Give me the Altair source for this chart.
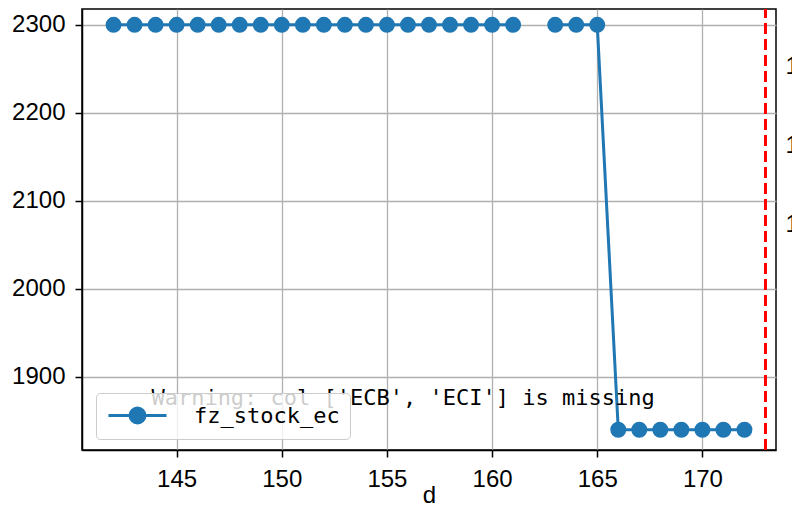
import altair as alt
import pandas as pd

# ---- data ----
days = [142, 143, 144, 145, 146, 147, 148, 149, 150, 151, 152, 153, 154, 155, 156,
        157, 158, 159, 160, 161, 162, 163, 164, 165, 166, 167, 168, 169, 170, 171, 172]
stock = [2300, 2300, 2300, 2300, 2300, 2300, 2300, 2300, 2300, 2300, 2300, 2300, 2300,
         2300, 2300, 2300, 2300, 2300, 2300, 2300, None, 2300, 2300, 2300,
         1840, 1840, 1840, 1840, 1840, 1840, 1840]
series_name = "fz_stock_ec"
cutoff_day = [173]
warning_msg = ["Warning: col ['ECB', 'ECI'] is missing"]
x_ticks = [145, 150, 155, 160, 165, 170]
y_ticks = [1900, 2000, 2100, 2200, 2300]
right_ticks = [1.0, 1.2, 1.4]

W, H = 694, 441
BLUE = "#1f77b4"

# build table; a new segment starts after each missing value
rows, seg = [], 0
for d, v in zip(days, stock):
    if v is None:
        seg += 1
        continue
    rows.append({"d": d, "value": v, "segment": seg, "series": series_name})
df = pd.DataFrame(rows)

x_scale = alt.Scale(domain=[140.5, 173.5], nice=False, zero=False)
x_enc = alt.X("d:Q", scale=x_scale,
              axis=alt.Axis(values=x_ticks, title="d", format="d", labelPadding=10,
                            titleY=52, titleBaseline="alphabetic",
                            titleFont="Liberation Sans", titleFontSize=24,
                            titleFontWeight="normal", titleColor="black"))
y_enc = alt.Y("value:Q",
              scale=alt.Scale(domain=[1817, 2318], nice=False, zero=False),
              axis=alt.Axis(values=y_ticks, title=None, format="d", labelPadding=10))

line = alt.Chart(df).mark_line(color=BLUE, strokeWidth=3).encode(
    x=x_enc, y=y_enc, detail="segment:N")

points = alt.Chart(df).mark_point(filled=True, size=254, opacity=1).encode(
    x=x_enc, y=y_enc,
    color=alt.Color("series:N", scale=alt.Scale(domain=[series_name], range=[BLUE]),
                    legend=alt.Legend(
                        orient="none", legendX=14, legendY=384, title=None,
                        fillColor="rgba(255,255,255,0.8)", strokeColor="#cccccc",
                        cornerRadius=4, padding=10,
                        labelFont="DejaVu Sans Mono", labelFontSize=22, labelColor="black",
                        symbolType="M-2.64,0H2.64M0.68,0A0.68,0.68,0,1,1,-0.68,0A0.68,0.68,0,1,1,0.68,0Z",
                        symbolSize=484, symbolStrokeWidth=3,
                        symbolStrokeColor=BLUE, symbolFillColor=BLUE,
                        symbolOffset=19, labelOffset=44)))

rule = alt.Chart(pd.DataFrame({"d": cutoff_day})).mark_rule(
    color="red", strokeWidth=3, strokeDash=[11, 5]).encode(
    x=alt.X("d:Q", scale=x_scale),
    y=alt.value(H), y2=alt.value(0))

warn = alt.Chart(pd.DataFrame({"msg": warning_msg})).mark_text(
    align="left", baseline="alphabetic", font="DejaVu Sans Mono", fontSize=22,
    color="black").encode(
    text="msg:N", x=alt.value(0.1 * W), y=alt.value(H - 0.101 * H))

main = alt.layer(line, points, rule, warn)

right_axis = alt.Chart(pd.DataFrame({"v": right_ticks})).mark_point(opacity=0).encode(
    y=alt.Y("v:Q", scale=alt.Scale(domain=[0.433, 1.544], nice=False, zero=False),
            axis=alt.Axis(orient="right", values=right_ticks, format=".1f", title=None,
                          domain=False, ticks=False, grid=False, labelPadding=9)))

chart = alt.layer(main, right_axis).resolve_scale(y="independent").properties(
    width=W, height=H,
    autosize=alt.AutoSizeParams(type="none"),
    padding={"left": 74, "top": 1, "right": 16, "bottom": 58},
).configure_view(stroke="black", strokeWidth=1.5).configure_axis(
    domainColor="black", domainWidth=1.5, tickColor="black", tickWidth=1.5, tickSize=7,
    gridColor="#b0b0b0", gridWidth=1.3, labelFont="Liberation Sans", labelFontSize=24,
    labelColor="black")

chart.save("out.html", embed_options={"renderer": "svg", "actions": False})
